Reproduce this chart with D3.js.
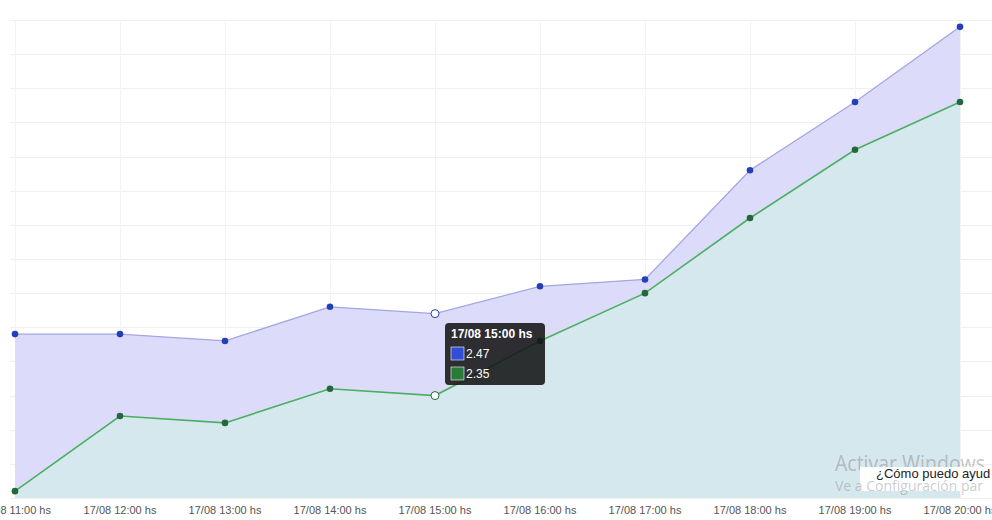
<!DOCTYPE html>
<html>
<head>
<meta charset="utf-8">
<script src="https://cdn.jsdelivr.net/npm/d3@7"></script>
<style>
  body { margin: 0; background: #fff; overflow: hidden; }
  #chart { position: relative; width: 992px; height: 520px; }
  .tick-label { font-family: "Liberation Sans", Arial, sans-serif; font-size: 11px; fill: #555; }
</style>
</head>
<body>
<div id="chart"></div>
<script>
// horas del eje x
const categories = ['17/08 11:00 hs', '17/08 12:00 hs', '17/08 13:00 hs', '17/08 14:00 hs', '17/08 15:00 hs',
                    '17/08 16:00 hs', '17/08 17:00 hs', '17/08 18:00 hs', '17/08 19:00 hs', '17/08 20:00 hs'];
const blueValues = [2.44, 2.44, 2.43, 2.48, 2.47, 2.51, 2.52, 2.68, 2.78, 2.89];
const greenValues = [2.21, 2.32, 2.31, 2.36, 2.35, 2.43, 2.50, 2.61, 2.71, 2.78];
const yTicks = [2.20, 2.25, 2.30, 2.35, 2.40, 2.45, 2.50, 2.55, 2.60, 2.65, 2.70, 2.75, 2.80, 2.85, 2.90];
const hoverIndex = 4;

function makeGraph() {
  let w = 992;
  let h = 520;

  let svg = d3.select('#chart').append('svg').attr('width', w).attr('height', h);

  let xScale = d3.scalePoint()
                 .domain(categories)
                 .range([15, 960]);

  let yScale = d3.scaleLinear()
                 .domain([2.2, 2.9])
                 .range([498, 20]);

  // grid
  svg.append('g')
    .selectAll('line')
    .data(yTicks)
    .enter()
      .append('line')
      .attr('x1', 10)
      .attr('x2', 992)
      .attr('y1', d => Math.round(yScale(d)) + 0.5)
      .attr('y2', d => Math.round(yScale(d)) + 0.5)
      .style('stroke', '#efefef');

  svg.append('g')
    .selectAll('line')
    .data(categories)
    .enter()
      .append('line')
      .attr('x1', d => Math.round(xScale(d)) + 0.5)
      .attr('x2', d => Math.round(xScale(d)) + 0.5)
      .attr('y1', 20)
      .attr('y2', 498)
      .style('stroke', '#f3f3f3');

  let area = vals => d3.area()
      .x((d, i) => xScale(categories[i]))
      .y0(yScale(2.2))
      .y1(d => yScale(d))(vals);

  let line = vals => d3.line()
      .x((d, i) => xScale(categories[i]))
      .y(d => yScale(d))(vals);

  svg.append('path').attr('d', area(blueValues)).style('fill', '#dcdcfa');
  svg.append('path').attr('d', area(greenValues)).style('fill', '#d5e8ee');

  svg.append('path').attr('d', line(blueValues))
    .style('fill', 'none').style('stroke', '#a3a6e0').style('stroke-width', 1.3);
  svg.append('path').attr('d', line(greenValues))
    .style('fill', 'none').style('stroke', '#4caf62').style('stroke-width', 1.6);

  // points
  let drawPoints = (vals, color) => {
    svg.append('g')
      .selectAll('circle')
      .data(vals)
      .enter()
        .append('circle')
        .attr('cx', (d, i) => xScale(categories[i]))
        .attr('cy', d => yScale(d))
        .attr('r', (d, i) => i === hoverIndex ? 4 : 3.3)
        .style('fill', (d, i) => i === hoverIndex ? '#fff' : color)
        .style('stroke', (d, i) => i === hoverIndex ? color : 'none')
        .style('stroke-width', 1);
  };
  drawPoints(blueValues, '#2440b8');
  drawPoints(greenValues, '#23673a');

  // x labels
  svg.append('g')
    .selectAll('text')
    .data(categories)
    .enter()
      .append('text')
      .classed('tick-label', true)
      .attr('x', d => xScale(d))
      .attr('y', 514)
      .attr('text-anchor', 'middle')
      .text(d => d);

  // tooltip
  let tx = xScale(categories[hoverIndex]) + 10;
  let ty = 323;
  let tip = svg.append('g').attr('transform', `translate(${tx}, ${ty})`);
  tip.append('rect')
    .attr('width', 100).attr('height', 62).attr('rx', 4)
    .style('fill', 'rgba(20,20,22,0.88)');
  tip.append('text')
    .attr('x', 6).attr('y', 15)
    .style('font-family', '"Liberation Sans", Arial, sans-serif')
    .style('font-size', '12px').style('font-weight', 'bold').style('fill', '#fff')
    .text(categories[hoverIndex]);
  let rows = [{v: blueValues[hoverIndex], c: '#2e4fd6'}, {v: greenValues[hoverIndex], c: '#2a7a3a'}];
  tip.selectAll('g.row')
    .data(rows)
    .enter()
      .append('g')
      .attr('transform', (d, i) => `translate(6, ${24 + i * 20})`)
      .each(function(d) {
        let g = d3.select(this);
        g.append('rect').attr('width', 13).attr('height', 13)
          .style('fill', d.c).style('stroke', '#fff').style('stroke-width', 0.6);
        g.append('text').attr('x', 15).attr('y', 11)
          .style('font-family', '"Liberation Sans", Arial, sans-serif')
          .style('font-size', '12px').style('fill', '#fff')
          .text(d.v.toFixed(2));
      });

  // screenshot overlays (watermark + chat widget)
  svg.append('text')
    .attr('x', 835).attr('y', 471)
    .attr('textLength', 150).attr('lengthAdjust', 'spacingAndGlyphs')
    .style('font-family', '"Open Sans", "Noto Sans", sans-serif')
    .style('font-size', '21px').style('fill', 'rgba(140,140,140,0.5)')
    .text('Activar Windows');
  svg.append('rect')
    .attr('x', 860).attr('y', 467).attr('width', 132).attr('height', 24)
    .style('fill', '#fff');
  svg.append('text')
    .attr('x', 876).attr('y', 478)
    .style('font-family', '"Liberation Sans", Arial, sans-serif')
    .style('font-size', '13px').style('fill', '#222')
    .text('¿Cómo puedo ayud');
  svg.append('text')
    .attr('x', 835).attr('y', 491)
    .style('font-family', '"Open Sans", "Noto Sans", sans-serif')
    .style('font-size', '14px').style('fill', 'rgba(140,140,140,0.45)')
    .text('Ve a Configuración par');
}

window.onload = function() {
  makeGraph();
};
</script>
</body>
</html>
